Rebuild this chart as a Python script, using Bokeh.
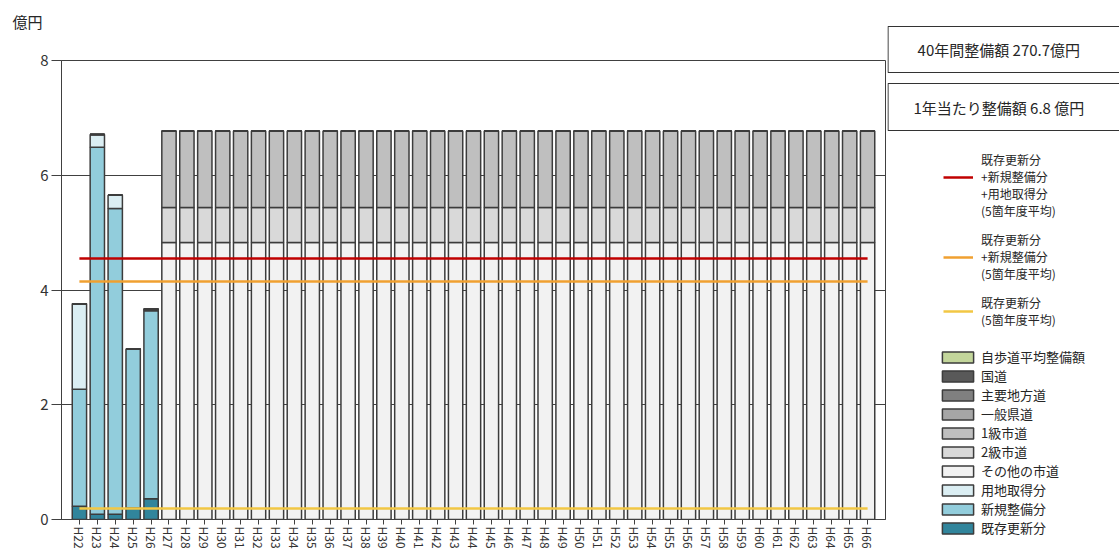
import math
from bokeh.plotting import figure
from bokeh.models import (Range1d, FixedTicker, Label, Legend, LegendItem,
                          ColumnDataSource)
from bokeh.layouts import row
from bokeh.embed import file_html
from bokeh.resources import INLINE

# ---------------- data ----------------
years = ["H22", "H23", "H24", "H25", "H26", "H27", "H28", "H29", "H30", "H31",
         "H32", "H33", "H34", "H35", "H36", "H37", "H38", "H39", "H40", "H41",
         "H42", "H43", "H44", "H45", "H46", "H47", "H48", "H49", "H50", "H51",
         "H52", "H53", "H54", "H55", "H56", "H57", "H58", "H59", "H60", "H61",
         "H62", "H63", "H64", "H65", "H66"]

# 既存更新分
kizon = [0.23, 0.09, 0.09, 0.20, 0.36,
         0, 0, 0, 0, 0, 0, 0, 0, 0, 0,
         0, 0, 0, 0, 0, 0, 0, 0, 0, 0,
         0, 0, 0, 0, 0, 0, 0, 0, 0, 0,
         0, 0, 0, 0, 0, 0, 0, 0, 0, 0]
# 新規整備分
shinki = [2.04, 6.40, 5.33, 2.77, 3.28,
          0, 0, 0, 0, 0, 0, 0, 0, 0, 0,
          0, 0, 0, 0, 0, 0, 0, 0, 0, 0,
          0, 0, 0, 0, 0, 0, 0, 0, 0, 0,
          0, 0, 0, 0, 0, 0, 0, 0, 0, 0]
# 用地取得分
youchi = [1.49, 0.22, 0.23, 0.0, 0.03,
          0, 0, 0, 0, 0, 0, 0, 0, 0, 0,
          0, 0, 0, 0, 0, 0, 0, 0, 0, 0,
          0, 0, 0, 0, 0, 0, 0, 0, 0, 0,
          0, 0, 0, 0, 0, 0, 0, 0, 0, 0]
# その他の市道
sonota = [0, 0, 0, 0, 0,
          4.83, 4.83, 4.83, 4.83, 4.83, 4.83, 4.83, 4.83, 4.83, 4.83,
          4.83, 4.83, 4.83, 4.83, 4.83, 4.83, 4.83, 4.83, 4.83, 4.83,
          4.83, 4.83, 4.83, 4.83, 4.83, 4.83, 4.83, 4.83, 4.83, 4.83,
          4.83, 4.83, 4.83, 4.83, 4.83, 4.83, 4.83, 4.83, 4.83, 4.83]
# 2級市道
nikyu = [0, 0, 0, 0, 0,
         0.61, 0.61, 0.61, 0.61, 0.61, 0.61, 0.61, 0.61, 0.61, 0.61,
         0.61, 0.61, 0.61, 0.61, 0.61, 0.61, 0.61, 0.61, 0.61, 0.61,
         0.61, 0.61, 0.61, 0.61, 0.61, 0.61, 0.61, 0.61, 0.61, 0.61,
         0.61, 0.61, 0.61, 0.61, 0.61, 0.61, 0.61, 0.61, 0.61, 0.61]
# 1級市道
ikkyu = [0, 0, 0, 0, 0,
         1.33, 1.33, 1.33, 1.33, 1.33, 1.33, 1.33, 1.33, 1.33, 1.33,
         1.33, 1.33, 1.33, 1.33, 1.33, 1.33, 1.33, 1.33, 1.33, 1.33,
         1.33, 1.33, 1.33, 1.33, 1.33, 1.33, 1.33, 1.33, 1.33, 1.33,
         1.33, 1.33, 1.33, 1.33, 1.33, 1.33, 1.33, 1.33, 1.33, 1.33]
# 一般県道 / 主要地方道 / 国道 / 自歩道平均整備額
kendo = [0, 0, 0, 0, 0, 0, 0, 0, 0, 0, 0, 0, 0, 0, 0,
         0, 0, 0, 0, 0, 0, 0, 0, 0, 0, 0, 0, 0, 0, 0,
         0, 0, 0, 0, 0, 0, 0, 0, 0, 0, 0, 0, 0, 0, 0]
chihodo = [0, 0, 0, 0, 0, 0, 0, 0, 0, 0, 0, 0, 0, 0, 0,
           0, 0, 0, 0, 0, 0, 0, 0, 0, 0, 0, 0, 0, 0, 0,
           0, 0, 0, 0, 0, 0, 0, 0, 0, 0, 0, 0, 0, 0, 0]
kokudo = [0, 0, 0, 0, 0, 0, 0, 0, 0, 0, 0, 0, 0, 0, 0,
          0, 0, 0, 0, 0, 0, 0, 0, 0, 0, 0, 0, 0, 0, 0,
          0, 0, 0, 0, 0, 0, 0, 0, 0, 0, 0, 0, 0, 0, 0]
jihodo = [0, 0, 0, 0, 0, 0, 0, 0, 0, 0, 0, 0, 0, 0, 0,
          0, 0, 0, 0, 0, 0, 0, 0, 0, 0, 0, 0, 0, 0, 0,
          0, 0, 0, 0, 0, 0, 0, 0, 0, 0, 0, 0, 0, 0, 0]

# 5箇年度平均 lines
avg_all = 4.55      # 既存更新分+新規整備分+用地取得分
avg_new = 4.15      # 既存更新分+新規整備分
avg_old = 0.19      # 既存更新分

total_40 = "270.7"
per_year = "6.8"
unit_label = "億円"

y_ticks = [0, 2, 4, 6, 8]

stack_keys = ["kizon", "shinki", "youchi", "sonota", "nikyu", "ikkyu",
              "kendo", "chihodo", "kokudo", "jihodo"]
stack_names = ["既存更新分", "新規整備分", "用地取得分", "その他の市道", "2級市道",
               "1級市道", "一般県道", "主要地方道", "国道", "自歩道平均整備額"]

# ---------------- styles ----------------
FONT = "Noto Sans CJK JP"
TXT = "#262626"
EDGE = "#3c3c3c"
stack_colors = ["#31859c", "#92cddc", "#dbeef3", "#f2f2f2", "#d9d9d9",
                "#bfbfbf", "#a6a6a6", "#808080", "#595959", "#c3d69b"]
line_colors = ["#c00000", "#f0a030", "#f2c744"]
NAN = float("nan")

# ---------------- main chart ----------------
xs = list(range(len(years)))
src = ColumnDataSource(dict(x=xs, kizon=kizon, shinki=shinki, youchi=youchi,
                            sonota=sonota, nikyu=nikyu, ikkyu=ikkyu, kendo=kendo,
                            chihodo=chihodo, kokudo=kokudo, jihodo=jihodo))

p = figure(width=887, height=555, x_range=Range1d(-1, len(years)),
           y_range=Range1d(0, 8), output_backend="svg", toolbar_location=None,
           min_border_left=61, min_border_right=2, min_border_top=60,
           min_border_bottom=36, frame_align=False)
p.background_fill_color = "white"
p.border_fill_color = "white"
p.outline_line_color = "#404040"
p.outline_line_width = 1

# unit caption at the top-left corner (second, blank line lifts it upward)
p.title.text = unit_label + "\n "
p.title.align = "left"
p.title.offset = -49
p.title.standoff = 16
p.title.text_font = FONT
p.title.text_font_size = "15px"
p.title.text_font_style = "normal"
p.title.text_color = TXT

p.vbar_stack(stack_keys, x="x", width=0.8, source=src, fill_color=stack_colors,
             line_color=EDGE, line_width=1.5)

for v, c in zip([avg_all, avg_new, avg_old], line_colors):
    p.segment(x0=[xs[0]], x1=[xs[-1]], y0=[v], y1=[v], line_color=c,
              line_width=2.5)

p.xgrid.visible = False
p.ygrid.ticker = FixedTicker(ticks=y_ticks)
p.ygrid.grid_line_color = "#404040"
p.ygrid.grid_line_width = 1

p.yaxis.ticker = FixedTicker(ticks=y_ticks)
p.yaxis.minor_tick_line_color = None
p.yaxis.major_tick_out = 10
p.yaxis.major_tick_in = 0
p.yaxis.axis_line_color = "#404040"
p.yaxis.major_tick_line_color = "#404040"
p.yaxis.major_label_text_font = FONT
p.yaxis.major_label_text_font_size = "15px"
p.yaxis.major_label_text_color = "#333333"
p.yaxis.major_label_standoff = 3

p.xaxis.ticker = FixedTicker(ticks=xs)
p.xaxis.major_label_overrides = {i: y for i, y in zip(xs, years)}
p.xaxis.minor_tick_line_color = None
p.xaxis.major_tick_out = 5
p.xaxis.major_tick_in = 0
p.xaxis.axis_line_color = "#404040"
p.xaxis.major_tick_line_color = "#404040"
p.xaxis.major_label_orientation = -math.pi / 2
p.xaxis.major_label_text_font = FONT
p.xaxis.major_label_text_font_size = "12px"
p.xaxis.major_label_text_color = "#333333"
p.xaxis.major_label_standoff = 2

# ---------------- right panel (summary boxes + legend) ----------------
W2, H2 = 232, 555
p2 = figure(width=W2, height=H2, x_range=Range1d(0, W2), y_range=Range1d(0, H2),
            output_backend="svg", toolbar_location=None, min_border=0,
            x_axis_location=None, y_axis_location=None, frame_align=False)
p2.outline_line_color = None
p2.grid.visible = False
p2.background_fill_color = "white"
p2.border_fill_color = "white"

# summary boxes (run past the right edge, as in the original)
p2.quad(left=[0.5, 0.5], right=[W2 + 40, W2 + 40], top=[529, 472],
        bottom=[483, 425], fill_color="white", line_color="#333333",
        line_width=1.2)
p2.add_layout(Label(x=113, y=506, text=f"40年間整備額  {total_40}億円",
                    text_font=FONT, text_font_size="15px", text_color=TXT,
                    text_align="center", text_baseline="middle"))
p2.add_layout(Label(x=113, y=448, text=f"1年当たり整備額  {per_year} 億円",
                    text_font=FONT, text_font_size="15px", text_color=TXT,
                    text_align="center", text_baseline="middle"))

# line legend: one item per text line so the line pitch matches the original
blank = p2.line(x=[NAN], y=[NAN], line_alpha=0)
lr = [p2.line(x=[NAN], y=[NAN], line_color=c, line_width=2.5) for c in line_colors]
line_items = [
    LegendItem(label="既存更新分", renderers=[blank]),
    LegendItem(label="+新規整備分", renderers=[lr[0]]),
    LegendItem(label="+用地取得分", renderers=[blank]),
    LegendItem(label="(5箇年度平均)", renderers=[blank]),
    LegendItem(label=" ", renderers=[blank]),
    LegendItem(label="既存更新分", renderers=[blank]),
    LegendItem(label="+新規整備分", renderers=[lr[1]]),
    LegendItem(label="(5箇年度平均)", renderers=[blank]),
    LegendItem(label=" ", renderers=[blank]),
    LegendItem(label="既存更新分\n(5箇年度平均)", renderers=[lr[2]]),
]

box_items = []
for name, c in reversed(list(zip(stack_names, stack_colors))):
    r = p2.vbar(x=[NAN], top=[NAN], width=1, fill_color=c, line_color=EDGE,
                line_width=1.5)
    box_items.append(LegendItem(label=name, renderers=[r]))

leg1 = Legend(items=line_items, location=(56, 227), padding=0, margin=0,
              spacing=0, glyph_width=30, glyph_height=12, label_standoff=8,
              label_text_font=FONT, label_text_font_size="12px",
              label_text_color=TXT, label_height=10,
              border_line_color=None, background_fill_alpha=0)
leg2 = Legend(items=box_items, location=(51, 18), padding=0, margin=0,
              spacing=0, glyph_width=39, glyph_height=14, label_standoff=4,
              label_height=12, label_text_font=FONT, label_text_font_size="13px",
              label_text_color=TXT,
              border_line_color=None, background_fill_alpha=0)
p2.add_layout(leg1)
p2.add_layout(leg2)

layout = row(p, p2)
open("out.html", "w").write(file_html(layout, INLINE))
